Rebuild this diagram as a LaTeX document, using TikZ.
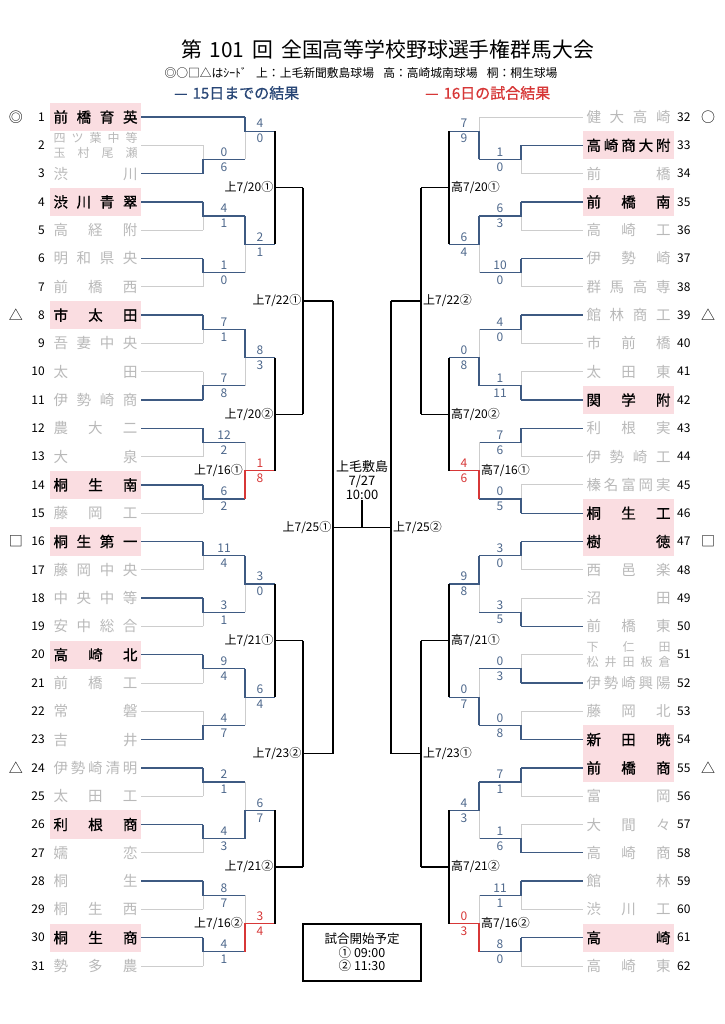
\documentclass[tikz,border=0pt]{standalone}
\usepackage{fontspec}
\setmainfont{Noto Sans CJK JP}
\newfontfamily\boldjp[FakeBold=0.9]{Noto Sans CJK JP}
\newfontfamily\legjp[FakeBold=0.8]{Noto Sans CJK JP}
\definecolor{wblue}{RGB}{62,90,130}
\definecolor{sblue}{RGB}{78,104,140}
\definecolor{rred}{RGB}{215,55,55}
\definecolor{lgray}{RGB}{205,205,205}
\definecolor{gtext}{RGB}{185,185,185}
\definecolor{pinkbg}{RGB}{250,221,225}
\definecolor{lblue}{RGB}{40,70,118}
\pgfmathdeclarefunction{ry}{1}{\pgfmathparse{117+(#1-1)*28.3}}
\tikzset{
  win/.style={draw=wblue,line width=1.25pt},
  red/.style={draw=rred,line width=1.25pt},
  loser/.style={draw=lgray,line width=0.9pt},
  pend/.style={draw=black,line width=1.15pt},
  nameA/.style={fill=pinkbg,text=black,minimum width=91pt,minimum height=28.3pt,inner sep=0pt,align=center,font=\boldjp\fontsize{14.5}{16}\selectfont},
  nameG/.style={text=gtext,minimum width=91pt,minimum height=28.3pt,inner sep=0pt,align=center,font=\fontsize{14.5}{16}\selectfont},
  nameG2/.style={text=gtext,minimum width=91pt,minimum height=28.3pt,inner sep=0pt,align=center,font=\fontsize{12}{14.5}\selectfont},
  num/.style={inner sep=0pt,font=\fontsize{12}{12}\selectfont},
  sym/.style={inner sep=0pt,font=\fontsize{14}{14}\selectfont},
  scorewin/.style={inner sep=0pt,text=sblue,font=\fontsize{12}{12}\selectfont},
  scorered/.style={inner sep=0pt,text=rred,font=\fontsize{12}{12}\selectfont},
  mlabel/.style={inner sep=0pt,font=\fontsize{12}{12}\selectfont},
}
\newcommand\J[1]{\makebox[84pt][s]{#1}}
\newcommand\JJ[2]{\makebox[84pt][s]{#1}\\\makebox[84pt][s]{#2}}
\newcounter{scn}
\newcommand\Match[9]{%
  \stepcounter{scn}%
  \if#6t
    \draw[loser] ({#1},{ry(#4)}) -- ({#1},{ry(#5)});
    \draw[#7] ({#1},{ry(#3)}) -- ({#1},{ry(#5)}) -- ({#2},{ry(#5)});
  \else
    \draw[loser] ({#1},{ry(#3)}) -- ({#1},{ry(#5)});
    \draw[#7] ({#1},{ry(#4)}) -- ({#1},{ry(#5)}) -- ({#2},{ry(#5)});
  \fi
  \node[score#7] (sa\thescn) at ({(#1+#2)/2},{ry(#5)-7.5}) {#8};
  \node[score#7] (sb\thescn) at ({(#1+#2)/2},{ry(#5)+7.5}) {#9};
}
\newcommand\PendL[7]{%
  \coordinate (#7) at ({#1},{ry(#5)});
  \draw[pend] ({#1},{ry(#3)}) -- ({#1},{ry(#4)});
  \draw[pend] (#7) -- ({#2},{ry(#5)});
  \node[mlabel,anchor=east] (lab#7) at ({#1-1.5},{ry(#5)}) {#6};
}
\newcommand\PendR[7]{%
  \coordinate (#7) at ({#1},{ry(#5)});
  \draw[pend] ({#1},{ry(#3)}) -- ({#1},{ry(#4)});
  \draw[pend] (#7) -- ({#2},{ry(#5)});
  \node[mlabel,anchor=west] (lab#7) at ({#1+2},{ry(#5)}) {#6};
}
\newcommand\TeamL[5]{%
  \node[name#3] (t#1) at (95.5,{ry(#1)}) {#2};
  \node[num,anchor=east] (n#1) at (45,{ry(#1)}) {#1};
  \draw[#4] (t#1.east) -- ({#5},{ry(#1)});
}
\newcommand\TeamR[5]{%
  \pgfmathtruncatemacro\rrow{#1-31}%
  \node[name#3] (t#1) at (628.5,{ry(\rrow)}) {#2};
  \node[num,anchor=west] (n#1) at (677,{ry(\rrow)}) {#1};
  \draw[#4] (t#1.west) -- ({#5},{ry(\rrow)});
}
\begin{document}
\begin{tikzpicture}[x=1pt,y=-1pt]
\useasboundingbox (0,0) rectangle (724,1024);
\fill[white] (0,0) rectangle (724,1024);
% header
\node[inner sep=0pt] (title) at (388,50) {\resizebox{412pt}{!}{\fontsize{21}{22}\selectfont 第\hspace{7pt}101\hspace{8pt}回\hspace{8pt}全国高等学校野球選手権群馬大会}};
\node[inner sep=0pt] (sub) at (361,73) {\resizebox{393pt}{!}{\fontsize{11.5}{12}\selectfont ◎○□△はｼｰﾄﾞ\hspace{9pt}上：上毛新聞敷島球場\hspace{9pt}高：高崎城南球場\hspace{9pt}桐：桐生球場}};
\node[inner sep=0pt,anchor=west,text=lblue,font=\legjp\fontsize{15}{15}\selectfont] (leg1) at (174,93) {—\hspace{5pt}15日までの結果};
\node[inner sep=0pt,anchor=west,text=rred,font=\legjp\fontsize{15}{15}\selectfont] (leg2) at (425,93) {—\hspace{5pt}16日の試合結果};
% symbols
\node[sym] (y1) at (16,{ry(1)}) {◎};
\node[sym] (y8) at (16,{ry(8)}) {△};
\node[sym] (y16) at (16,{ry(16)}) {□};
\node[sym] (y24) at (16,{ry(24)}) {△};
\node[sym] (y32) at (708,{ry(1)}) {○};
\node[sym] (y39) at (708,{ry(8)}) {△};
\node[sym] (y47) at (708,{ry(16)}) {□};
\node[sym] (y55) at (708,{ry(24)}) {△};
% left teams
\TeamL{1}{\J{前 橋 育 英}}{A}{win}{245}
\TeamL{2}{\JJ{四 ツ 葉 中 等}{玉 村 尾 瀬}}{G2}{loser}{203}
\TeamL{3}{\J{渋 川}}{G}{win}{203}
\TeamL{4}{\J{渋 川 青 翠}}{A}{win}{203}
\TeamL{5}{\J{高 経 附}}{G}{loser}{203}
\TeamL{6}{\J{明 和 県 央}}{G}{win}{203}
\TeamL{7}{\J{前 橋 西}}{G}{loser}{203}
\TeamL{8}{\J{市 太 田}}{A}{win}{203}
\TeamL{9}{\J{吾 妻 中 央}}{G}{loser}{203}
\TeamL{10}{\J{太 田}}{G}{loser}{203}
\TeamL{11}{\J{伊 勢 崎 商}}{G}{win}{203}
\TeamL{12}{\J{農 大 二}}{G}{win}{203}
\TeamL{13}{\J{大 泉}}{G}{loser}{203}
\TeamL{14}{\J{桐 生 南}}{A}{win}{203}
\TeamL{15}{\J{藤 岡 工}}{G}{loser}{203}
\TeamL{16}{\J{桐 生 第 一}}{A}{win}{203}
\TeamL{17}{\J{藤 岡 中 央}}{G}{loser}{203}
\TeamL{18}{\J{中 央 中 等}}{G}{win}{203}
\TeamL{19}{\J{安 中 総 合}}{G}{loser}{203}
\TeamL{20}{\J{高 崎 北}}{A}{win}{203}
\TeamL{21}{\J{前 橋 工}}{G}{loser}{203}
\TeamL{22}{\J{常 磐}}{G}{loser}{203}
\TeamL{23}{\J{吉 井}}{G}{win}{203}
\TeamL{24}{\J{伊 勢 崎 清 明}}{G}{win}{203}
\TeamL{25}{\J{太 田 工}}{G}{loser}{203}
\TeamL{26}{\J{利 根 商}}{A}{win}{203}
\TeamL{27}{\J{嬬 恋}}{G}{loser}{203}
\TeamL{28}{\J{桐 生}}{G}{win}{203}
\TeamL{29}{\J{桐 生 西}}{G}{loser}{203}
\TeamL{30}{\J{桐 生 商}}{A}{win}{203}
\TeamL{31}{\J{勢 多 農}}{G}{loser}{203}
% right teams
\TeamR{32}{\J{健 大 高 崎}}{G}{loser}{479}
\TeamR{33}{\J{高 崎 商 大 附}}{A}{win}{521}
\TeamR{34}{\J{前 橋}}{G}{loser}{521}
\TeamR{35}{\J{前 橋 南}}{A}{win}{521}
\TeamR{36}{\J{高 崎 工}}{G}{loser}{521}
\TeamR{37}{\J{伊 勢 崎}}{G}{win}{521}
\TeamR{38}{\J{群 馬 高 専}}{G}{loser}{521}
\TeamR{39}{\J{館 林 商 工}}{G}{win}{521}
\TeamR{40}{\J{市 前 橋}}{G}{loser}{521}
\TeamR{41}{\J{太 田 東}}{G}{loser}{521}
\TeamR{42}{\J{関 学 附}}{A}{win}{521}
\TeamR{43}{\J{利 根 実}}{G}{win}{521}
\TeamR{44}{\J{伊 勢 崎 工}}{G}{loser}{521}
\TeamR{45}{\J{榛 名 富 岡 実}}{G}{loser}{521}
\TeamR{46}{\J{桐 生 工}}{A}{win}{521}
\TeamR{47}{\J{樹 徳}}{A}{win}{521}
\TeamR{48}{\J{西 邑 楽}}{G}{loser}{521}
\TeamR{49}{\J{沼 田}}{G}{loser}{521}
\TeamR{50}{\J{前 橋 東}}{G}{win}{521}
\TeamR{51}{\JJ{下 仁 田}{松 井 田 板 倉}}{G2}{loser}{521}
\TeamR{52}{\J{伊 勢 崎 興 陽}}{G}{win}{521}
\TeamR{53}{\J{藤 岡 北}}{G}{loser}{521}
\TeamR{54}{\J{新 田 暁}}{A}{win}{521}
\TeamR{55}{\J{前 橋 商}}{A}{win}{521}
\TeamR{56}{\J{富 岡}}{G}{loser}{521}
\TeamR{57}{\J{大 間 々}}{G}{loser}{521}
\TeamR{58}{\J{高 崎 商}}{G}{win}{521}
\TeamR{59}{\J{館 林}}{G}{win}{521}
\TeamR{60}{\J{渋 川 工}}{G}{loser}{521}
\TeamR{61}{\J{高 崎}}{A}{win}{521}
\TeamR{62}{\J{高 崎 東}}{G}{loser}{521}
% left round 1
\Match{203}{245}{2}{3}{2.5}{b}{win}{0}{6}
\Match{203}{245}{4}{5}{4.5}{t}{win}{4}{1}
\Match{203}{245}{6}{7}{6.5}{t}{win}{1}{0}
\Match{203}{245}{8}{9}{8.5}{t}{win}{7}{1}
\Match{203}{245}{10}{11}{10.5}{b}{win}{7}{8}
\Match{203}{245}{12}{13}{12.5}{t}{win}{12}{2}
\Match{203}{245}{14}{15}{14.5}{t}{win}{6}{2}
\Match{203}{245}{16}{17}{16.5}{t}{win}{11}{4}
\Match{203}{245}{18}{19}{18.5}{t}{win}{3}{1}
\Match{203}{245}{20}{21}{20.5}{t}{win}{9}{4}
\Match{203}{245}{22}{23}{22.5}{b}{win}{4}{7}
\Match{203}{245}{24}{25}{24.5}{t}{win}{2}{1}
\Match{203}{245}{26}{27}{26.5}{t}{win}{4}{3}
\Match{203}{245}{28}{29}{28.5}{t}{win}{8}{7}
\Match{203}{245}{30}{31}{30.5}{t}{win}{4}{1}
% left round 2
\Match{245}{275}{1}{2.5}{1.5}{t}{win}{4}{0}
\Match{245}{275}{4.5}{6.5}{5.5}{t}{win}{2}{1}
\Match{245}{275}{8.5}{10.5}{9.5}{t}{win}{8}{3}
\Match{245}{275}{12.5}{14.5}{13.5}{b}{red}{1}{8}
\Match{245}{275}{16.5}{18.5}{17.5}{t}{win}{3}{0}
\Match{245}{275}{20.5}{22.5}{21.5}{t}{win}{6}{4}
\Match{245}{275}{24.5}{26.5}{25.5}{b}{win}{6}{7}
\Match{245}{275}{28.5}{30.5}{29.5}{b}{red}{3}{4}
\node[mlabel,anchor=east] (r16a) at (243,{ry(13.5)}) {上7/16①};
\node[mlabel,anchor=east] (r16b) at (243,{ry(29.5)}) {上7/16②};
% left later rounds
\PendL{275}{303}{1.5}{5.5}{3.5}{上7/20①}{L3a}
\PendL{275}{303}{9.5}{13.5}{11.5}{上7/20②}{L3b}
\PendL{275}{303}{17.5}{21.5}{19.5}{上7/21①}{L3c}
\PendL{275}{303}{25.5}{29.5}{27.5}{上7/21②}{L3d}
\PendL{303}{333}{3.5}{11.5}{7.5}{上7/22①}{L4a}
\PendL{303}{333}{19.5}{27.5}{23.5}{上7/23②}{L4b}
\PendL{333}{362}{7.5}{23.5}{15.5}{上7/25①}{L5}
% right round 1
\Match{521}{479}{2}{3}{2.5}{t}{win}{1}{0}
\Match{521}{479}{4}{5}{4.5}{t}{win}{6}{3}
\Match{521}{479}{6}{7}{6.5}{t}{win}{10}{0}
\Match{521}{479}{8}{9}{8.5}{t}{win}{4}{0}
\Match{521}{479}{10}{11}{10.5}{b}{win}{1}{11}
\Match{521}{479}{12}{13}{12.5}{t}{win}{7}{6}
\Match{521}{479}{14}{15}{14.5}{b}{win}{0}{5}
\Match{521}{479}{16}{17}{16.5}{t}{win}{3}{0}
\Match{521}{479}{18}{19}{18.5}{b}{win}{3}{5}
\Match{521}{479}{20}{21}{20.5}{b}{win}{0}{3}
\Match{521}{479}{22}{23}{22.5}{b}{win}{0}{8}
\Match{521}{479}{24}{25}{24.5}{t}{win}{7}{1}
\Match{521}{479}{26}{27}{26.5}{b}{win}{1}{6}
\Match{521}{479}{28}{29}{28.5}{t}{win}{11}{1}
\Match{521}{479}{30}{31}{30.5}{t}{win}{8}{0}
% right round 2
\Match{479}{449}{1}{2.5}{1.5}{b}{win}{7}{9}
\Match{479}{449}{4.5}{6.5}{5.5}{t}{win}{6}{4}
\Match{479}{449}{8.5}{10.5}{9.5}{b}{win}{0}{8}
\Match{479}{449}{12.5}{14.5}{13.5}{b}{red}{4}{6}
\Match{479}{449}{16.5}{18.5}{17.5}{t}{win}{9}{8}
\Match{479}{449}{20.5}{22.5}{21.5}{b}{win}{0}{7}
\Match{479}{449}{24.5}{26.5}{25.5}{t}{win}{4}{3}
\Match{479}{449}{28.5}{30.5}{29.5}{b}{red}{0}{3}
\node[mlabel,anchor=west] (r16c) at (481,{ry(13.5)}) {高7/16①};
\node[mlabel,anchor=west] (r16d) at (481,{ry(29.5)}) {高7/16②};
% right later rounds
\PendR{449}{421}{1.5}{5.5}{3.5}{高7/20①}{R3a}
\PendR{449}{421}{9.5}{13.5}{11.5}{高7/20②}{R3b}
\PendR{449}{421}{17.5}{21.5}{19.5}{高7/21①}{R3c}
\PendR{449}{421}{25.5}{29.5}{27.5}{高7/21②}{R3d}
\PendR{421}{391}{3.5}{11.5}{7.5}{上7/22②}{R4a}
\PendR{421}{391}{19.5}{27.5}{23.5}{上7/23①}{R4b}
\PendR{391}{362}{7.5}{23.5}{15.5}{上7/25②}{R5}
% final
\coordinate (fin) at (362,{ry(15.5)});
\coordinate (fintop) at (362,500);
\draw[pend] (fin) -- (fintop);
\node[inner sep=0pt,align=center,font=\fontsize{13}{14}\selectfont,anchor=south] (finlab) at (fintop) {上毛敷島\\7/27\\10:00};
% schedule box
\node[draw=black,line width=2pt,minimum width=118pt,minimum height=57pt,inner sep=0pt,align=center,font=\fontsize{12.5}{13.5}\selectfont] (sched) at (362,952.5) {試合開始予定\\① 09:00\\② 11:30};
\end{tikzpicture}
\end{document}
